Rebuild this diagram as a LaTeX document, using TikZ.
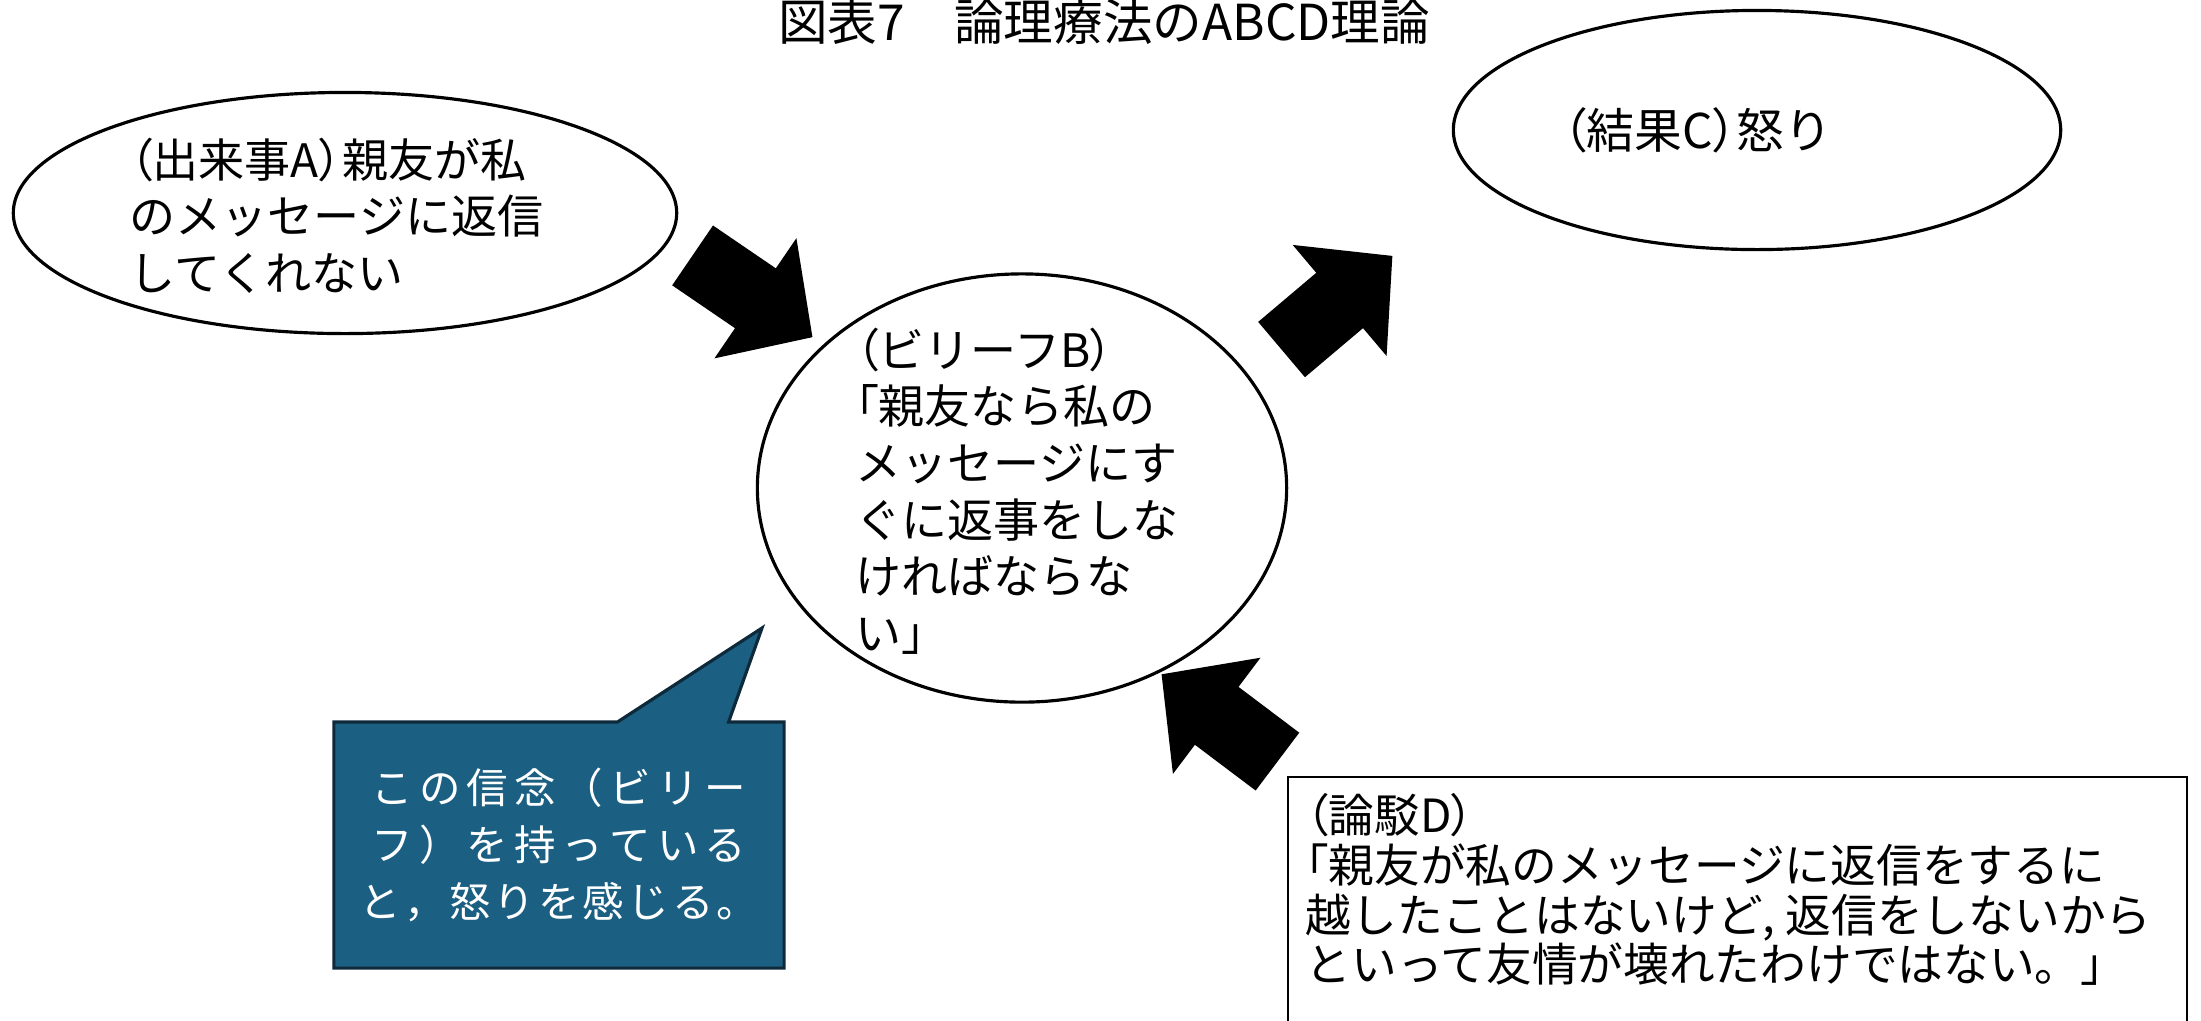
\documentclass[tikz,border=0pt]{standalone}
\usepackage{fontspec}
\setmainfont{Noto Sans CJK JP}
\newfontfamily\jpprop[RawFeature=+palt]{Noto Sans CJK JP}
\usetikzlibrary{shapes.geometric,shapes.arrows,shapes.callouts}
\definecolor{calloutblue}{RGB}{27,95,130}
\definecolor{calloutedge}{RGB}{14,42,58}
\newcommand{\plp}{{\jpprop （}}
\newcommand{\prp}{{\jpprop ）}}
\newcommand{\plq}{{\jpprop 「}}
\newcommand{\spreadline}[2]{\hbox to #1{\spreadfirst#2\relax}}
\def\spreadfirst#1{#1\spreadrest}
\def\spreadrest#1{\ifx\relax#1\else\hfil#1\expandafter\spreadrest\fi}

\begin{document}
\begin{tikzpicture}[x=0.01cm,y=-0.01cm]
    \tikzstyle{event}=[ellipse,draw=black,line width=0.9pt,fill=white,inner sep=0pt]
    \tikzstyle{words}=[inner sep=0pt,align=left,anchor=north west,font=\fontsize{13.1}{16.1}\selectfont]
    \tikzstyle{blockarrow}=[single arrow,fill=black,inner xsep=0pt,inner ysep=0.355cm,minimum width=1.26cm,minimum height=1.45cm,single arrow head extend=0.365cm,single arrow tip angle=93,anchor=tail]
    \useasboundingbox (0,0) rectangle (2201,1020);
    \clip (0,0) rectangle (2201,1020);
    \node [font=\fontsize{14.1}{16}\selectfont,anchor=base,inner sep=0pt] (title) at (1104,40) {図表7　論理療法のABCD理論};
    % A, B, C
    \node [event,minimum width=6.63cm,minimum height=2.41cm] (a) at (345,213) {};
    \node [event,minimum width=5.29cm,minimum height=4.28cm] (b) at (1022,488) {};
    \node [event,minimum width=6.07cm,minimum height=2.39cm] (c) at (1757,130) {};
    \node [words] (at) at (129,137) {\plp 出来事A\prp 親友が私\\のメッセージに返信\\してくれない};
    \node [words] (bt) at (855,327) {\plp ビリーフB\prp\\\plq 親友なら私の\\メッセージにす\\ぐに返事をしな\\ければならな\\い」};
    \node [words,font=\fontsize{13.6}{16}\selectfont] (ct) at (1562,107) {\plp 結果C\prp 怒り};
    % block arrows
    \node [blockarrow,rotate=-34.3] (ab) at (692,255) {};
    \node [blockarrow,rotate=40.2] (bc) at (1281,350) {};
    \node [blockarrow,rotate=143] (db) at (1278,762) {};
    % callout
    \coordinate (tip) at (762,628);
    \node [rectangle callout,callout absolute pointer={(tip)},callout pointer width=1.11cm,fill=calloutblue,draw=calloutedge,line width=0.9pt,minimum width=4.5cm,minimum height=2.46cm,inner sep=0pt,text=white,align=center,font=\fontsize{11.8}{16.2}\selectfont] (note) at (559,845) {\spreadline{3.74cm}{この信念（ビリー}\\\spreadline{3.74cm}{フ）を持っている}\\\spreadline{3.98cm}{と，怒りを感じる。}};
    % D
    \node [draw,line width=0.6pt,minimum width=8.98cm,minimum height=3.5cm,anchor=north west,inner sep=0pt] (d) at (1287,776) {};
    \node [words,font=\fontsize{13}{14.1}\selectfont] (dt) at (1305,793) {\plp 論駁D\prp\\\plq 親友が私のメッセージに返信をするに\\越したことはないけど, 返信をしないから\\といって友情が壊れたわけではない。」};
\end{tikzpicture}
\end{document}
